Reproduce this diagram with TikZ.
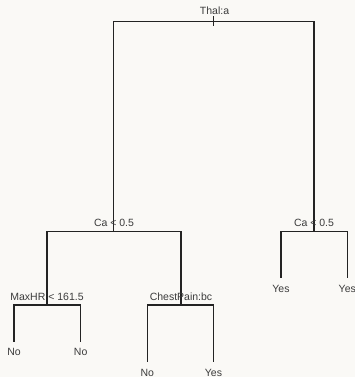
\documentclass[tikz,border=0pt]{standalone}
\usepackage{fontspec}
\setmainfont{Liberation Sans}
\definecolor{bgc}{RGB}{250,249,246}
\definecolor{linec}{RGB}{35,35,35}
\definecolor{textc}{RGB}{60,60,60}
\begin{document}
\begin{tikzpicture}[x=1pt,y=-1pt,
  edge/.style={draw=linec,line width=1.1pt},
  lbl/.style={anchor=base,inner sep=0pt,text=textc,font=\fontsize{10.5}{12}\selectfont}]
\fill[bgc] (0,0) rectangle (355,377);
\useasboundingbox (0,0) rectangle (355,377);
% tree node positions
\coordinate (top) at (213.5,16.5);
\coordinate (r) at (213.5,21.5);
\coordinate (tick) at (213.5,26.5);
\coordinate (L) at (113.5,231.5);
\coordinate (R) at (314,231.5);
\coordinate (LL) at (47,305);
\coordinate (LR) at (181,305);
\coordinate (LLa) at (14,342);
\coordinate (LLb) at (80.7,342);
\coordinate (LRa) at (147.3,362);
\coordinate (LRb) at (213.5,362);
\coordinate (Ra) at (281,278);
\coordinate (Rb) at (347.3,278);
% edges
\draw[edge] (top) -- (tick);
\draw[edge] (r) -| (L);
\draw[edge] (r) -| (R);
\draw[edge] (L) -| (LL);
\draw[edge] (L) -| (LR);
\draw[edge] (LL) -| (LLa);
\draw[edge] (LL) -| (LLb);
\draw[edge] (LR) -| (LRa);
\draw[edge] (LR) -| (LRb);
\draw[edge] (R) -| (Ra);
\draw[edge] (R) -| (Rb);
% labels
\node[lbl] (tThal) at (214.5,15) {Thal:a};
\node[lbl] (tCa1) at (114,226) {Ca < 0.5};
\node[lbl] (tCa2) at (314,226) {Ca < 0.5};
\node[lbl] (tMax) at (47,300) {MaxHR < 161.5};
\node[lbl] (tChest) at (181,300) {ChestPain:bc};
\node[lbl] (tNo1) at (14,355) {No};
\node[lbl] (tNo2) at (80.7,355) {No};
\node[lbl] (tNo3) at (147.3,376) {No};
\node[lbl] (tYes1) at (213.5,376) {Yes};
\node[lbl] (tYes2) at (281,292) {Yes};
\node[lbl] (tYes3) at (347.3,292) {Yes};
\end{tikzpicture}
\end{document}
